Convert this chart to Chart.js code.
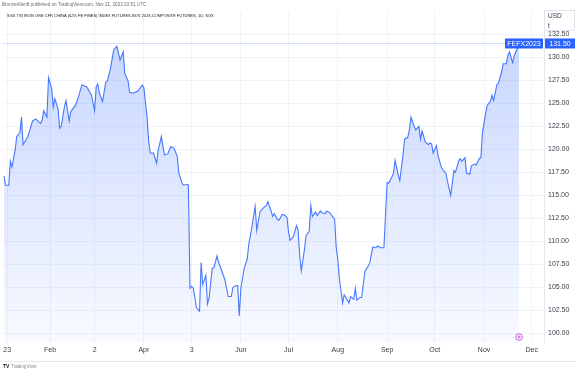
<!DOCTYPE html>
<html><head><meta charset="utf-8">
<script src="https://cdn.jsdelivr.net/npm/chart.js@4"></script>
<style>html,body{margin:0;padding:0;background:#fff;overflow:hidden}canvas{display:block}</style>
</head><body>
<canvas id="c" width="579" height="373"></canvas>
<script>
// Day of year 2023 (Jan 1 = 1) of each sampled session
const days = [3,4,6,7,8,10,11,13,14,15,18,21,23,26,27,28,30,31,33,34,35,37,38,39,41,42,44,45,48,50,52,55,58,60,61,62,63,65,67,68,70,72,74,76,78,79,81,82,84,87,90,91,93,94,95,97,99,100,102,103,104,106,108,110,112,113,115,116,118,119,
120,121,122,123,124,126,127,128,130,131,132,134,135,137,138,140,142,144,146,147,149,150,151,152,154,156,157,159,161,162,164,166,168,169,171,172,173,175,176,178,179,181,182,183,185,187,188,189,190,192,193,195,196,197,199,200,202,203,205,206,208,210,211,212,213,214,216,217,220,221,223,224,225,227,228,230,232,233,234,235,237,238,240,242,
244,245,247,248,249,251,252,254,255,257,258,259,261,262,264,265,266,268,270,271,272,273,275,276,278,279,281,282,284,285,286,287,289,290,291,293,294,296,297,299,300,302,303,304,306,307,309,310,311,313,314,316,317,319,320,321,323,324,326,327];
// Settlement price, USD/t
const prices = [117.1,116.1,116.1,118.7,118.1,119.9,121.4,121.8,123.5,120.5,121.4,123.1,123.3,122.8,123.2,124.2,123.5,127.8,126.6,124.6,125.5,124.4,122.3,122.5,124.6,125.3,123.1,124.1,124.8,125.8,127.0,126.8,125.9,124.2,126.8,127.1,126.1,125.2,127.3,127.4,128.8,130.8,131.2,129.7,130.6,128.2,127.5,126.2,126.1,126.3,127.0,126.7,123.5,120.9,119.6,119.6,118.5,119.9,121.4,120.3,119.4,119.5,120.3,120.1,119.2,117.4,116.3,116.1,116.2,116.1,
104.9,105.1,104.9,104.0,102.8,102.4,107.7,105.3,106.3,103.2,103.8,107.1,107.1,108.4,107.7,106.8,105.8,104.0,104.0,105.0,105.2,105.2,101.9,104.9,107.0,108.1,109.7,111.6,113.8,111.2,113.2,113.6,113.9,114.3,113.3,112.7,113.0,112.4,112.3,112.9,112.9,112.6,111.0,110.1,110.5,111.7,111.2,108.5,106.8,109.1,110.6,111.1,113.9,112.7,113.2,112.8,113.3,113.1,113.0,113.3,113.1,112.6,112.4,109.3,108.0,105.9,103.3,104.2,103.3,104.0,103.7,104.9,103.6,103.9,103.9,106.7,107.3,107.6,108.5,109.4,109.3,109.5,109.3,109.3,
116.4,116.3,117.0,117.4,118.8,117.2,116.6,119.4,121.1,121.3,122.1,123.5,122.5,122.1,122.5,121.1,122.0,120.8,120.5,120.7,120.6,119.6,120.4,119.4,118.1,117.8,117.4,116.5,115.0,116.3,117.7,117.5,118.7,119.0,118.7,119.1,117.4,117.3,118.2,118.4,118.3,119.0,119.1,121.9,123.9,124.8,125.2,125.9,125.3,127.0,127.2,128.4,129.3,129.3,130.2,130.6,129.4,130.2,131.0,131.5];
const tickDays = [5,32,60,91,121,152,182,213,244,274,305,335];
const tickLabels = ["23","Feb","2","Apr","3","Jun","Jul","Aug","Sep","Oct","Nov","Dec"];
const priceTicks = [100,102.5,105,107.5,110,112.5,115,117.5,120,122.5,125,127.5,130,132.5];
const symbol = "FEFX2023";
const unitLines = ["USD","t"];
const headerText = "BronzeAllen8 published on TradingView.com, Nov 21, 2023 23:51 UTC";
const titleText = "SGX TSI IRON ORE CFR CHINA (62% FE FINES) INDEX FUTURES,NOV 2023,COMPOSITE FUTURES, 1D, SGX";
const brand = "TradingView";

const BLUE = '#2962ff';
const FONT = '"Liberation Sans", Arial, sans-serif';
const TXT = '#3a3d48';

const points = days.map((d,i)=>({x:d,y:prices[i]}));

const decor = {
  id:'decor',
  beforeDraw(chart){
    const c = chart.ctx;
    c.save(); c.fillStyle='#fff'; c.fillRect(0,0,chart.width,chart.height); c.restore();
  },
  beforeDatasetsDraw(chart){
    const c = chart.ctx, a = chart.chartArea, ys = chart.scales.y;
    const last = prices[prices.length-1];
    const py = Math.round(ys.getPixelForValue(last))+0.5;
    c.save();
    c.strokeStyle='rgba(41,98,255,0.2)'; c.lineWidth=1;
    c.beginPath(); c.moveTo(a.left,py); c.lineTo(a.right,py); c.stroke();
    c.restore();
  },
  afterDraw(chart){
    const c = chart.ctx, a = chart.chartArea, ys = chart.scales.y, xs = chart.scales.x;
    const last = prices[prices.length-1];
    const py = ys.getPixelForValue(last);
    c.save();
    // pane borders
    c.strokeStyle='#e6e8ee'; c.lineWidth=1;
    c.beginPath();
    c.moveTo(a.right+0.5, 10); c.lineTo(a.right+0.5, a.bottom);
    c.moveTo(3, 361.5); c.lineTo(576, 361.5);
    c.stroke();
    // unit box
    c.fillStyle='#fff'; c.fillRect(a.right+1, 11, 30, 20);
    c.strokeStyle='#e0e3eb'; c.strokeRect(a.right+0.5, 10.5, 30, 20);
    c.fillStyle=TXT; c.font='6.5px '+FONT; c.textBaseline='middle'; c.textAlign='left';
    c.fillText(unitLines[0], a.right+4, 16);
    c.fillText(unitLines[1], a.right+4, 26);
    // symbol + price labels
    c.fillStyle=BLUE;
    c.fillRect(505, py-5, 38, 10);
    c.fillRect(a.right+1, py-5, 30, 10);
    c.fillStyle='#fff'; c.font='7px '+FONT; c.textAlign='center';
    c.fillText(symbol, 524, py+0.5);
    c.fillText(last.toFixed(2), a.right+16, py+0.5);
    // header texts
    c.fillStyle='#6a6d78'; c.font='4.6px '+FONT; c.textAlign='left';
    c.fillText(headerText, 2, 5);
    c.fillStyle='#131722'; c.font='4.0px '+FONT;
    c.fillText(titleText, 7, 16);
    // end marker icon
    const ix = xs.getPixelForValue(days[days.length-1]);
    c.strokeStyle='#c840d8'; c.lineWidth=0.9;
    c.beginPath(); c.arc(ix, 337, 3.3, 0, Math.PI*2); c.stroke();
    c.beginPath(); c.moveTo(ix-1.5,337); c.lineTo(ix+1.5,337); c.moveTo(ix,335.5); c.lineTo(ix,338.5); c.stroke();
    // brand
    c.fillStyle='#131722'; c.font='bold 5px '+FONT; c.textAlign='left';
    c.fillText('TV', 3, 366.5);
    c.fillStyle='#8a8d96'; c.font='4.6px '+FONT;
    c.fillText(brand, 11, 366.5);
    c.restore();
  }
};

new Chart(document.getElementById('c'), {
  type:'line',
  data:{datasets:[{
    data: points,
    borderColor: 'rgba(41,98,255,0.85)',
    borderWidth: 1.1,
    pointRadius: 0,
    tension: 0,
    fill: 'start',
    backgroundColor: (ctx)=>{
      const ch = ctx.chart, a = ch.chartArea;
      if(!a) return 'rgba(41,98,255,0.15)';
      const g = ch.ctx.createLinearGradient(0, a.top, 0, a.bottom);
      g.addColorStop(0,'rgba(41,98,255,0.28)');
      g.addColorStop(1,'rgba(41,98,255,0.03)');
      return g;
    }
  }]},
  options:{
    responsive:false, animation:false, devicePixelRatio:1,
    layout:{padding:{left:3,top:11,right:0,bottom:14}},
    plugins:{legend:{display:false},tooltip:{enabled:false}},
    scales:{
      x:{type:'linear', min:2.37, max:342.7,
        afterBuildTicks(s){ s.ticks = tickDays.map(v=>({value:v})); },
        afterFit(s){ s.height = 16; },
        grid:{color:'#f0f3fa', drawTicks:false},
        border:{display:false},
        ticks:{autoSkip:false, maxRotation:0, padding:3, color:TXT,
          font:{family:FONT,size:7},
          callback:(v)=>tickLabels[tickDays.indexOf(v)] }
      },
      y:{position:'right', min:98.95, max:135.03,
        afterBuildTicks(s){ s.ticks = priceTicks.map(v=>({value:v})); },
        afterFit(s){ s.width = 35; },
        grid:{color:'#f0f3fa', drawTicks:false},
        border:{display:false},
        ticks:{padding:4, color:TXT, font:{family:FONT,size:7},
          callback:(v)=>Number(v).toFixed(2)}
      }
    }
  },
  plugins:[decor]
});
</script>
</body></html>
